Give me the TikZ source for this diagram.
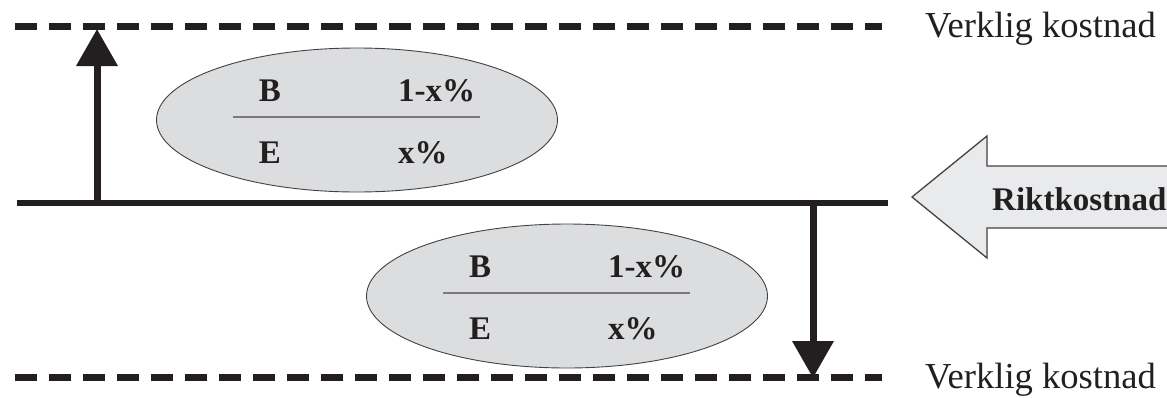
\documentclass[tikz,border=0pt]{standalone}
\usepackage{fontspec}
\setmainfont{Liberation Serif}
\usetikzlibrary{arrows.meta,shapes.geometric,calc}
\definecolor{ink}{RGB}{35,31,32}
\definecolor{ellfill}{RGB}{220,221,223}
\definecolor{arrfill}{RGB}{233,234,236}
\begin{document}
\begin{tikzpicture}[x=1pt,y=-1pt,
  dashline/.style={ink, line width=7pt, dash pattern=on 22pt off 12pt},
  solidline/.style={ink, line width=6pt},
  vecarrow/.style={ink, line width=7pt, -{Triangle[length=37pt,width=40pt]}},
  oval/.style={ellipse, draw=ink!85, line width=0.9pt, fill=ellfill, minimum width=401pt, minimum height=144pt, inner sep=0pt},
  divider/.style={draw=ink!60, line width=1.2pt},
  lbl/.style={font=\fontsize{33}{36}\selectfont\bfseries, text=ink, inner sep=0pt},
  vkcaption/.style={font=\fontsize{36.6}{40}\selectfont, text=ink, inner sep=0pt, anchor=base west},
  bigarrow/.style={draw=ink!85, line width=1.3pt, fill=arrfill, line join=miter}]
\useasboundingbox (0,0) rectangle (1167,397);
\clip (0,0) rectangle (1167,397);
% dashed lines
\coordinate (t1) at (15,26);
\coordinate (t2) at (882,26);
\coordinate (d1) at (15,377);
\coordinate (d2) at (882,377);
\draw[dashline] (t1) -- (t2);
\draw[dashline] (d1) -- (d2);
% main line
\coordinate (m1) at (17,203);
\coordinate (m2) at (888,203);
\draw[solidline] (m1) -- (m2);
% vertical arrows
\coordinate (u0) at (97,203);
\coordinate (u1) at (97,29);
\coordinate (w0) at (813,203);
\coordinate (w1) at (813,378);
\draw[vecarrow] (u0) -- (u1);
\draw[vecarrow] (w0) -- (w1);
% ellipses
\foreach \n/\cx/\cy in {1/357/120, 2/567/296}{
  \node[oval] (e\n) at (\cx,\cy) {};
  \coordinate (l\n a) at ($(e\n.center)+(-124,-3)$);
  \coordinate (l\n b) at ($(e\n.center)+(123,-3)$);
  \draw[divider] (l\n a) -- (l\n b);
  \node[lbl, anchor=base] (b\n) at ($(e\n.center)+(-87,-19)$) {B};
  \node[lbl, anchor=base] (f\n) at ($(e\n.center)+(-87,43)$) {E};
  \node[lbl, anchor=base west] (p\n) at ($(e\n.center)+(41,-19)$) {1-x\%};
  \node[lbl, anchor=base west] (q\n) at ($(e\n.center)+(41,43)$) {x\%};
}
% big hollow arrow
\draw[bigarrow] (1185,166) -- (987,166) -- (987,136) -- (912,197) -- (987,258) -- (987,228) -- (1185,228) -- cycle;
\node[lbl, anchor=base west] (rk) at (992,210) {Riktkostnad};
% captions
\node[vkcaption] (v1) at (925,37) {Verklig kostnad};
\node[vkcaption] (v2) at (925,388) {Verklig kostnad};
\end{tikzpicture}
\end{document}
